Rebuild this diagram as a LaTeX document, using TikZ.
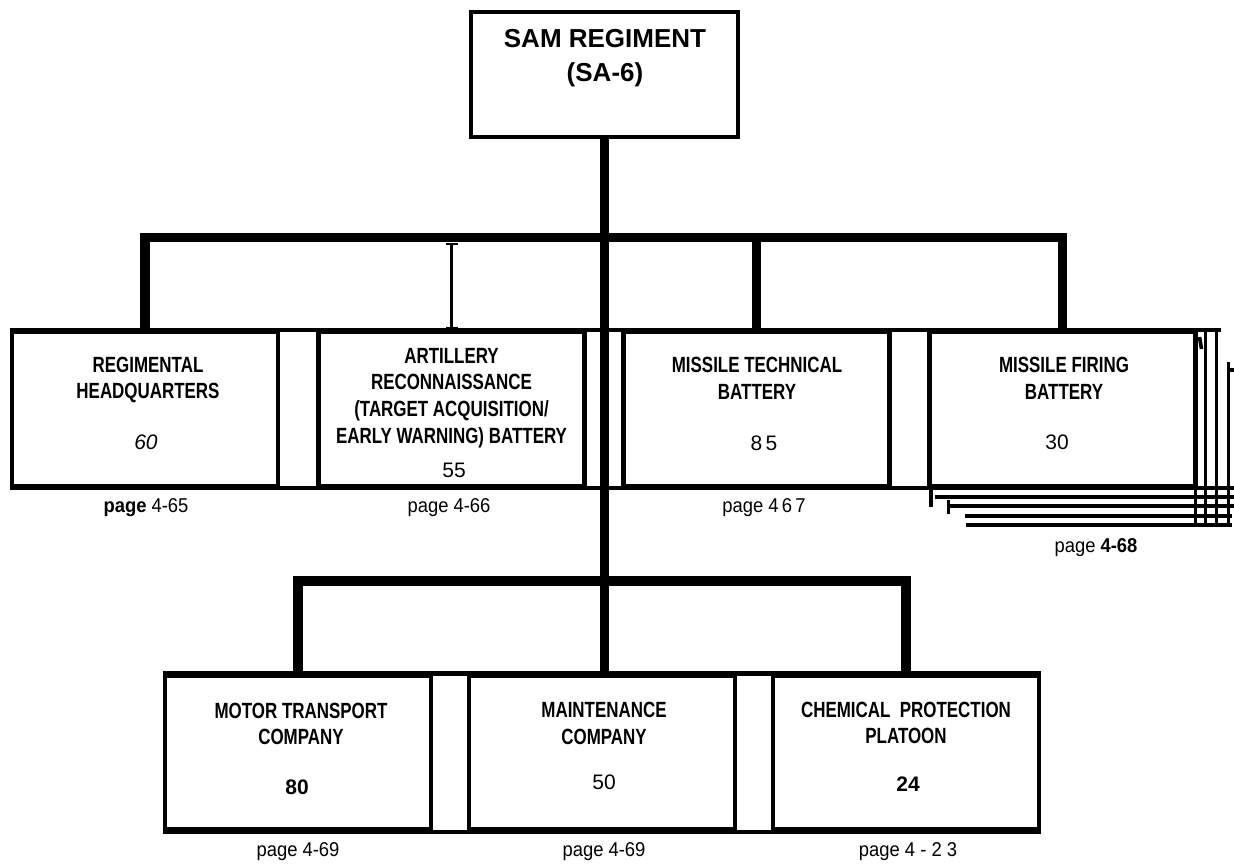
\documentclass[tikz,border=0pt]{standalone}
\usepackage{fontspec}
\setmainfont{Liberation Sans}
\newfontfamily\unitfont[FakeStretch=0.77]{Liberation Sans}
\newfontfamily\pagefont[FakeStretch=0.92]{Liberation Sans}
\usetikzlibrary{arrows.meta}

\begin{document}
\begin{tikzpicture}[x=0.5pt, y=-0.5pt, line join=miter,
  unit/.style={draw, line width=2.2pt, minimum width=133pt, minimum height=77pt, inner sep=0pt},
  title/.style={align=center, font=\unitfont\bfseries\fontsize{11}{13.3}\selectfont},
  count/.style={font=\fontsize{10.5}{12}\selectfont},
  pageref/.style={font=\pagefont\fontsize{10}{12}\selectfont},
  link/.style={line width=4.6pt},
  stack/.style={line width=1.8pt}]
  \useasboundingbox (0,0) rectangle (1234,865);
  % regiment
  \node[draw, line width=2.2pt, minimum width=133.5pt, minimum height=62.5pt, inner sep=0pt] (regt) at (604.5,74.5) {};
  \node[align=center, font=\bfseries\fontsize{13}{17}\selectfont] (regttitle) at (605,58) {SAM REGIMENT\\(SA-6)};
  % first row of units
  \node[unit] (hq) at (145,409) {};
  \node[unit] (arty) at (451.5,409) {};
  \node[unit] (mtech) at (756.5,409) {};
  \node[unit] (mfire) at (1062.5,409) {};
  \draw[line width=2.2pt] (hq.north west) -- (mfire.north east) -- ++(23,0);
  \draw[line width=2.2pt] (hq.south west) -- (mfire.south east) -- ++(38,0);
  % second row of units
  \node[unit] (motor) at (298,752.5) {};
  \node[unit] (maint) at (602,752.5) {};
  \node[unit] (chem) at (906,752.5) {};
  \draw[line width=2.2pt] (motor.north west) -- (chem.north east);
  \draw[line width=2.2pt] (motor.south west) -- (chem.south east);
  % connectors
  \coordinate (bus) at (604,237.5);
  \coordinate (lowbus) at (604,581);
  \draw[link] (regt.south) -- (regt.south |- maint.north);
  \draw[link] (hq.north) -- (hq.north |- bus) -- (mfire.north |- bus) -- (mfire.north);
  \draw[link] (mtech.north) -- (mtech.north |- bus);
  \draw[line width=1.3pt, {Bar[width=6pt]}-{Bar[width=6pt]}, shorten <=2.6pt] (arty.north |- bus) -- (arty.north);
  \draw[link] (motor.north) -- (motor.north |- lowbus) -- (chem.north |- lowbus) -- (chem.north);
  % several firing batteries stacked behind
  \begin{scope}[shift={(mfire.center)}, stack]
    \draw (133,77) -- (133,118);
    \draw (143,-77) -- (143,118);
    \draw (154,-77) -- (154,118);
    \draw (166,-47) -- (166,118);
    \draw (166,-39) -- (172,-39);
    \draw (137,-72) -- (139,-60);
    \draw (-127.5,88) -- (172,88);
    \draw (-115.5,97) -- (172,97);
    \draw (-97.5,107) -- (169.5,107);
    \draw (-96.5,116) -- (169.5,116);
    \draw (-131.5,77) -- (-131.5,98);
    \draw (-114,91) -- (-114,105);
  \end{scope}
  % unit texts
  \node[title] (hqtitle) at (148,380) {REGIMENTAL\\HEADQUARTERS};
  \node[count] (hqnum) at (146,442) {\itshape 60};
  \node[pageref] (hqpage) at (146,508) {\textbf{page} 4-65};
  \node[title] (artytitle) at (451.5,398) {ARTILLERY\\RECONNAISSANCE\\(TARGET ACQUISITION/\\EARLY WARNING) BATTERY};
  \node[count] (artynum) at (454,470) {55};
  \node[pageref] (artypage) at (449,508) {page 4-66};
  \node[title] (mtechtitle) at (757,378.5) {MISSILE TECHNICAL\\BATTERY};
  \node[count] (mtechnum) at (764,443) {8\,5};
  \node[pageref] (mtechpage) at (764,508) {page 4\,6\,7};
  \node[title] (mfiretitle) at (1064,378.5) {MISSILE FIRING\\BATTERY};
  \node[count] (mfirenum) at (1057,442) {30};
  \node[pageref] (mfirepage) at (1096,548) {page \textbf{4-68}};
  \node[title] (motortitle) at (301,724) {MOTOR TRANSPORT\\COMPANY};
  \node[count] (motornum) at (297,787) {\bfseries 80};
  \node[pageref] (motorpage) at (298,852) {page 4-69};
  \node[title] (mainttitle) at (604,723.5) {MAINTENANCE\\COMPANY};
  \node[count] (maintnum) at (604,782) {50};
  \node[pageref] (maintpage) at (604,852) {page 4-69};
  \node[title] (chemtitle) at (906,723) {CHEMICAL\ \ PROTECTION\\PLATOON};
  \node[count] (chemnum) at (908,784) {\bfseries 24};
  \node[pageref] (chempage) at (908,852) {page 4 - 2 3};
\end{tikzpicture}
\end{document}
